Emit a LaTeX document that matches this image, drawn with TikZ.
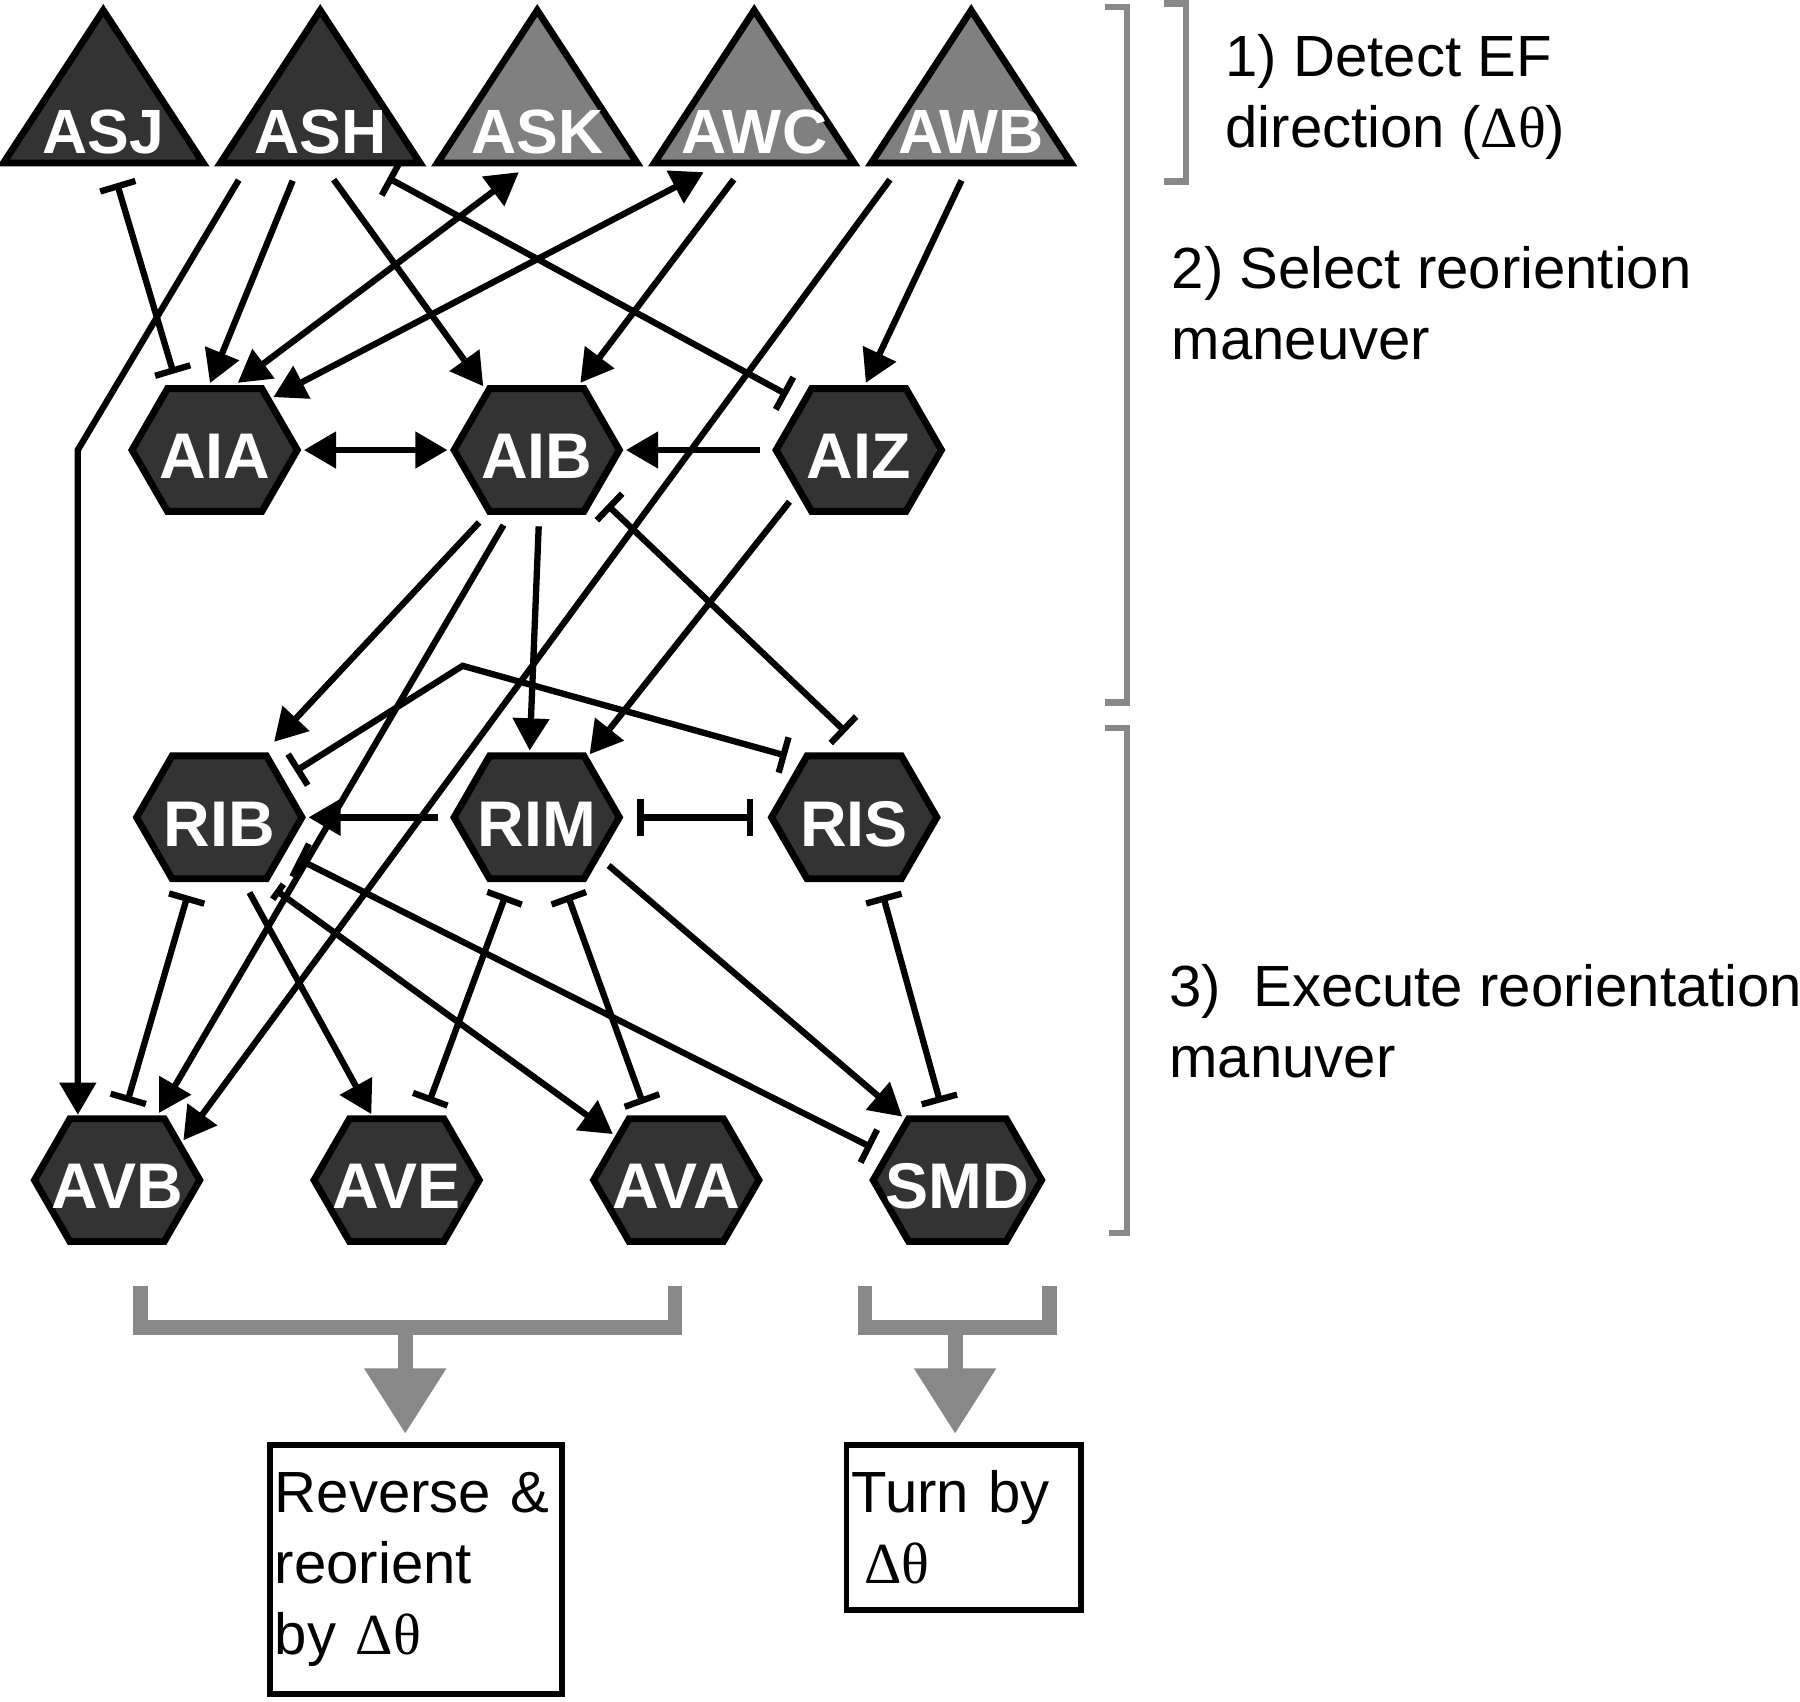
\documentclass[tikz,border=0pt]{standalone}
\usepackage{fontspec}
\setmainfont{Liberation Sans}
\newfontfamily\greekfont{Liberation Serif}
\usetikzlibrary{positioning,shapes,arrows.meta,backgrounds}

\definecolor{cellfill}{RGB}{51,51,51}
\definecolor{sensfill}{RGB}{128,128,128}
\definecolor{brackline}{RGB}{136,136,136}
\newcommand{\dtheta}{{\greekfont Δθ}}

\begin{document}
\begin{tikzpicture}[
  x=0.1mm, y=-0.1mm,
  node distance=12mm and 12mm,
  neuron/.style={signal, signal from=nowhere, signal to=east and west,
    signal pointer angle=120, draw, line width=0.6mm, fill=cellfill,
    minimum width=14.4mm, minimum height=10.7mm, inner xsep=-2mm, inner ysep=0pt,
    text height=5mm, text depth=0pt,
    outer sep=0.5mm, text=white, font=\fontsize{16}{18}\selectfont\bfseries},
  sensor/.style={rectangle, minimum width=17.4mm, inner sep=0pt,
    text height=12.5mm, text depth=0.8mm, outer xsep=0pt, outer ysep=0.8mm,
    text=white, font=\fontsize{15.5}{18}\selectfont\bfseries},
  sensbody/.style={draw, line width=0.6mm, fill=#1, line join=miter},
  syn/.style={line width=0.55mm},
  act/.style={syn, -{Triangle[length=2.8mm,width=3.1mm]}, shorten <=0.8mm},
  actboth/.style={syn, {Triangle[length=2.8mm,width=3.1mm]}-{Triangle[length=2.8mm,width=3.1mm]}},
  inh/.style={syn, {Bar[width=3.2mm]}-{Bar[width=3.2mm]}, shorten <=1mm, shorten >=1mm},
  stagebracket/.style={draw=brackline, line width=0.55mm},
  stagetext/.style={anchor=north west, align=left, inner sep=0pt,
    font=\fontsize{14.4}{17.6}\selectfont},
  groupbar/.style={draw=brackline, line width=1.3mm},
  grouparrow/.style={draw=brackline, line width=1.3mm,
    -{Triangle[length=5.7mm,width=6.8mm]}, shorten >=0.7mm},
  behaviour/.style={draw, line width=0.5mm, align=left, inner ysep=0pt,
    font=\fontsize{14.4}{17.6}\selectfont}
]
\useasboundingbox (0,0) rectangle (1568,1482);

% sensory neurons
\node[sensor] (asj) at (90,75.5) {ASJ};
\node[sensor, right=1.5mm of asj] (ash) {ASH};
\node[sensor, right=1.5mm of ash] (ask) {ASK};
\node[sensor, right=1.5mm of ask] (awc) {AWC};
\node[sensor, right=1.5mm of awc] (awb) {AWB};
\begin{scope}[on background layer]
  \foreach \n/\c in {asj/cellfill, ash/cellfill, ask/sensfill, awc/sensfill, awb/sensfill}
    \draw[sensbody=\c] ([yshift=0.8mm]\n.south west) -- ([yshift=0.8mm]\n.south east)
      -- ([yshift=-0.8mm]\n.north) -- cycle;
\end{scope}

% interneurons
\node[neuron] (aia) at (187,392) {AIA};
\node[neuron, right=12.5mm of aia] (aib) {AIB};
\node[neuron, right=12.5mm of aib] (aiz) {AIZ};
\node[neuron] (rib) at (191,712) {RIB};
\node[neuron, right=12.1mm of rib] (rim) {RIM};
\node[neuron, right=12.1mm of rim] (ris) {RIS};

% command and motor neurons
\node[neuron] (avb) at (102,1028) {AVB};
\node[neuron, right=8.8mm of avb] (ave) {AVE};
\node[neuron, right=8.8mm of ave] (ava) {AVA};
\node[neuron, right=8.8mm of ava] (smd) {SMD};

% behaviours
\node[behaviour, minimum width=25.4mm, minimum height=21.7mm, text width=24.6mm,
  inner xsep=0.4mm] (rev) at (362.5,1367) {Reverse \&\\reorient\\by \dtheta};
\node[behaviour, minimum width=20.4mm, minimum height=14.4mm, text width=19.5mm,
  inner xsep=0.45mm] (turn) at (839.5,1330.5) {Turn by\\\hspace*{1.1mm}\dtheta};

% stages
\node[stagetext] (stage1) at (1067,29) {1) Detect EF\\direction (\dtheta)};
\node[stagetext] (stage2) at (1020,214) {2) Select reoriention\\maneuver};
\node[stagetext] (stage3) at (1018,839) {3)\ \ Execute reorientation\\manuver};
\draw[stagebracket] (1014,3) -- (1033,3) -- (1033,158) -- (1014,158);
\draw[stagebracket] (963,6) -- (982,6) -- (982,612) -- (963,612);
\draw[stagebracket] (963,634) -- (982,634) -- (982,1074) -- (966,1074);

% sensory to interneurons
\draw[inh] ([xshift=0.9mm]asj.south) -- (aia.120);
\draw[act] ([xshift=-2.1mm]ash.south) -- (aia.94);
\draw[act] ([xshift=-6.7mm]ash.south) -- (avb.121 |- aia.center) -- (avb.121);
\draw[act] ([xshift=0.7mm]ash.south) -- (aib.130);
\draw[inh] ([xshift=5mm]ash.south) -- (aiz.141);
\draw[actboth] ([xshift=-1.6mm]ask.south) -- (aia.71);
\draw[actboth] ([xshift=-4.4mm]awc.south) -- (aia.42);
\draw[act] ([xshift=-1.3mm]awc.south) -- (aib.57);
\draw[act] ([xshift=-6.6mm]awb.south) -- (avb.31);
\draw[act] ([xshift=-0.5mm]awb.south) -- (aiz.84);

% between interneurons
\draw[actboth] (aia.east) -- (aib.west);
\draw[act] (aiz.west) -- (aib.east);
\draw[act, shorten >=1mm] (aib.232) -- (rib.55);
\draw[act] (aib.247) -- (avb.58);
\draw[act] (aib.272) -- (rim.96);
\draw[inh, shorten >=2.3mm] (aib.323) -- (ris.81);
\draw[act] (aiz.215) -- (rim.50);
\coordinate (kink) at (403,580);
\draw[inh] (rib.31) -- (kink) -- (ris.134);
\draw[act] (rim.west) -- (rib.east);
\draw[inh] (rim.east) -- (ris.west);

% to command and motor neurons
\draw[inh] (rib.247) -- (avb.84);
\draw[act] (rib.291) -- (ave.111);
\draw[act, {Bar[width=1.6mm]}-{Triangle[length=2.8mm,width=3.1mm]}] (rib.306) -- (ava.144);
\draw[inh] (rib.332) -- (smd.160);
\draw[inh] (rim.248) -- (ave.67);
\draw[inh] (rim.292) -- (ava.114);
\draw[act] (rim.327) -- (smd.131);
\draw[inh] (ris.291) -- (smd.102);

% groups to behaviours
\draw[groupbar] (122,1120) -- (122,1156.5) -- (588,1156.5) -- (588,1120);
\draw[groupbar] (753.5,1120) -- (753.5,1156.5) -- (914.5,1156.5) -- (914.5,1120);
\coordinate (revgroup) at (353,1156.5);
\coordinate (turngroup) at (832,1156.5);
\draw[grouparrow] (revgroup) -- (revgroup |- rev.north);
\draw[grouparrow] (turngroup) -- (turngroup |- turn.north);
\end{tikzpicture}
\end{document}
